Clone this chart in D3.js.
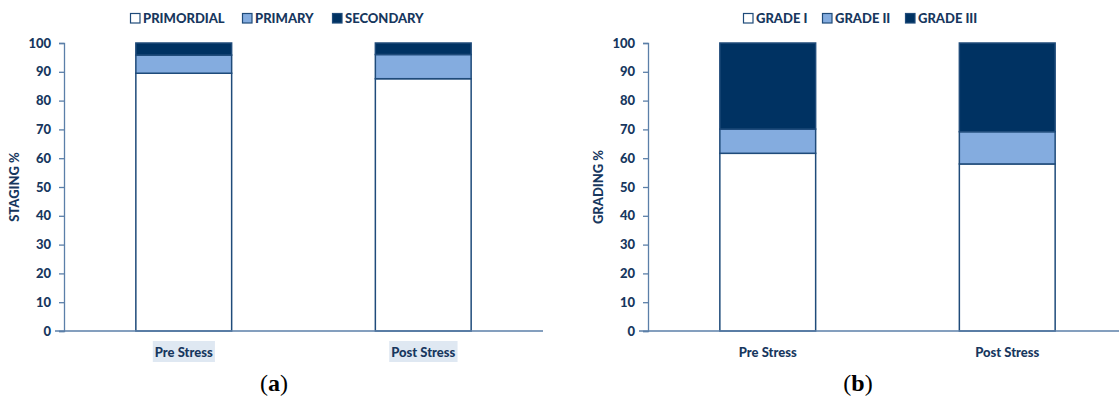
<!DOCTYPE html>
<html>
<head>
<meta charset="utf-8">
<script src="https://cdn.jsdelivr.net/npm/d3@7"></script>
<style>
  body { margin: 0; background: #fff; }
  svg text { font-family: Lato, "Open Sans", sans-serif; }
</style>
</head>
<body>
<svg id="chart" width="1119" height="401"></svg>
<script>
// shared categories and ticks
var groups = ["Pre Stress", "Post Stress"];
var yTicks = [0, 10, 20, 30, 40, 50, 60, 70, 80, 90, 100];

// panel (a) staging
var stagingSeries = ["PRIMORDIAL", "PRIMARY", "SECONDARY"];
var primordial = [89.5, 87.6];
var primary = [6.3, 8.4];
var secondary = [4.2, 4.0];

// panel (b) grading
var gradingSeries = ["GRADE I", "GRADE II", "GRADE III"];
var gradeI = [61.7, 58.0];
var gradeII = [8.4, 11.2];
var gradeIII = [29.9, 30.8];

var fills = ["#ffffff", "#84acdf", "#003262"];
var navy = "#17375e";
var axisColor = "#5b7fa8";
var heavy = 900;

var svg = d3.select("#chart");

function drawPanel(opts) {
  var g = svg.append("g");
  var rows = groups.map(function(name, i) {
    var r = { name: name };
    opts.series.forEach(function(s, k) { r[s] = opts.values[k][i]; });
    return r;
  });
  var stacked = d3.stack().keys(opts.series)(rows);

  var x = d3.scaleBand().domain(groups)
    .range([opts.left, opts.left + 479]).paddingInner(0.6).paddingOuter(0.3);
  var y = d3.scaleLinear().domain([0, 100]).range([331, 43]);

  // bars
  g.selectAll("g.layer").data(stacked).enter().append("g")
    .attr("class", "layer")
    .attr("fill", function(d, k) { return fills[k]; })
    .selectAll("rect").data(function(d) { return d; })
    .enter().append("rect")
    .attr("x", function(d) { return x(d.data.name); })
    .attr("width", x.bandwidth())
    .attr("y", function(d) { return y(d[1]); })
    .attr("height", function(d) { return y(d[0]) - y(d[1]); })
    .attr("stroke", "#1f4b7a").attr("stroke-width", 1.5);

  // y axis
  var ya = g.append("g").attr("transform", "translate(" + opts.left + ",0)")
    .call(d3.axisLeft(y).tickValues(yTicks).tickSize(5).tickPadding(8));
  ya.select(".domain").attr("stroke", axisColor).attr("stroke-width", 1.3);
  ya.selectAll(".tick line").attr("stroke", axisColor).attr("stroke-width", 1.3);
  ya.selectAll(".tick text").attr("fill", navy).attr("font-size", 13)
    .attr("font-weight", heavy).style("font-family", "Lato, sans-serif");

  // x axis line
  g.append("line")
    .attr("x1", opts.left - 9).attr("x2", opts.left + 479)
    .attr("y1", y(0)).attr("y2", y(0))
    .attr("stroke", axisColor).attr("stroke-width", 1.3);

  // x labels (panel a has a shaded box behind each)
  groups.forEach(function(name) {
    var cx = x(name) + x.bandwidth() / 2;
    var bg = opts.labelBg ? g.append("rect").attr("fill", "#dfe8f2") : null;
    var t = g.append("text").attr("x", cx).attr("y", 357)
      .attr("text-anchor", "middle").attr("fill", navy)
      .attr("font-size", 13).attr("font-weight", heavy).text(name);
    if (bg) {
      var bb = t.node().getBBox();
      bg.attr("x", bb.x - 2).attr("y", 341).attr("width", bb.width + 4).attr("height", 21);
    }
  });

  // y title
  g.append("text")
    .attr("transform", "translate(" + opts.titleX + ",187) rotate(-90)")
    .attr("text-anchor", "middle").attr("fill", navy)
    .attr("font-size", 13).attr("font-weight", heavy).text(opts.title);

  // legend
  opts.series.forEach(function(s, k) {
    var lx = opts.legendX[k];
    g.append("rect").attr("x", lx + 0.5).attr("y", 13.5).attr("width", 9.5).attr("height", 9.5)
      .attr("fill", fills[k]).attr("stroke", "#1f4b7a").attr("stroke-width", 1.2);
    g.append("text").attr("x", lx + 13).attr("y", 23)
      .attr("fill", navy).attr("font-size", 13).attr("font-weight", heavy).text(s);
  });

  // caption
  var cap = svg.append("text").attr("x", opts.capX).attr("y", 391)
    .attr("text-anchor", "middle").attr("font-size", 24)
    .style("font-family", "'Liberation Serif', 'DejaVu Serif', serif").attr("fill", "#000");
  cap.append("tspan").text("(");
  cap.append("tspan").attr("font-weight", "bold").text(opts.letter);
  cap.append("tspan").text(")");
}

drawPanel({
  left: 64, series: stagingSeries, values: [primordial, primary, secondary],
  title: "STAGING %", titleX: 19, legendX: [130, 242, 332], labelBg: true,
  capX: 274, letter: "a"
});
drawPanel({
  left: 648, series: gradingSeries, values: [gradeI, gradeII, gradeIII],
  title: "GRADING %", titleX: 603, legendX: [743, 822, 905], labelBg: false,
  capX: 858, letter: "b"
});
</script>
</body>
</html>
